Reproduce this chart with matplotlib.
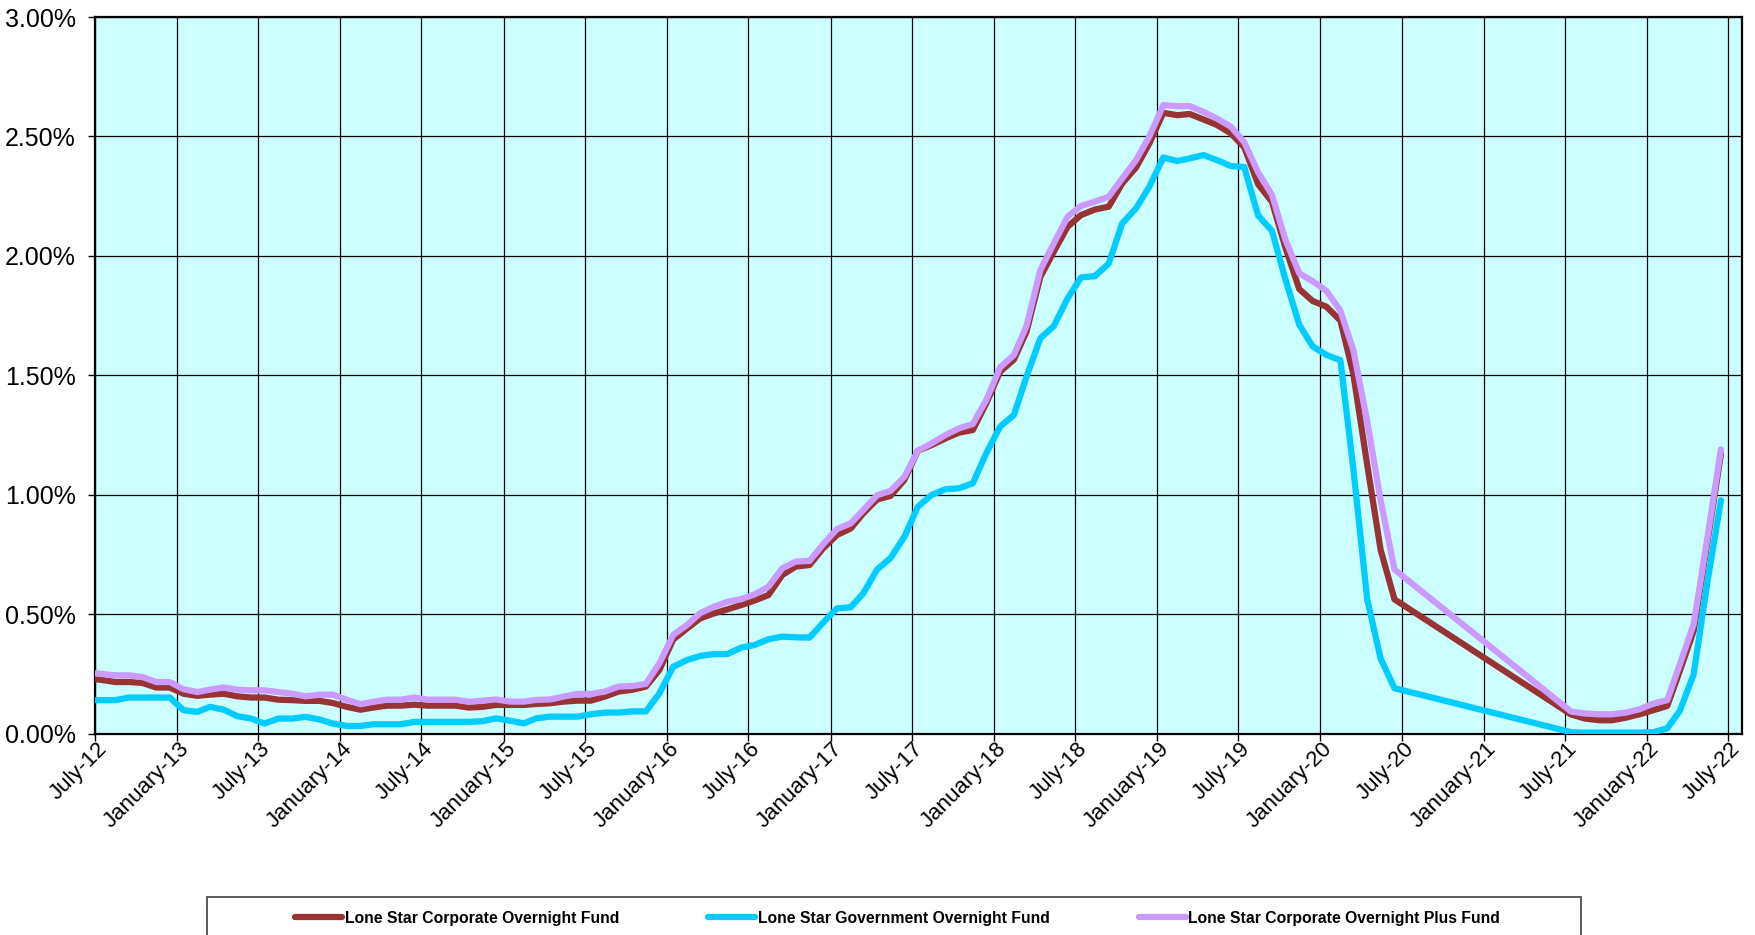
import numpy as np
import pandas as pd
import matplotlib
matplotlib.use("Agg")
import matplotlib.pyplot as plt
import matplotlib.dates as mdates
import matplotlib.transforms as mtransforms
from matplotlib.patches import Rectangle
from matplotlib.ticker import FuncFormatter

plt.rcParams['font.family'] = ['Liberation Sans', 'DejaVu Sans']

# monthly points (mid-month); no data from July 2020 to June 2021
dates_a = pd.date_range('2012-06-01', '2020-06-01', freq='MS') + pd.Timedelta(days=14)
dates_b = pd.date_range('2021-07-01', '2022-06-01', freq='MS') + pd.Timedelta(days=14)
dates = dates_a.append(dates_b)

# yields in percent
corporate = [
    0.230, 0.225, 0.216, 0.216, 0.212, 0.193, 0.193, 0.167, 0.158, 0.163,
    0.167, 0.156, 0.151, 0.151, 0.142, 0.140, 0.137, 0.137, 0.128, 0.112,
    0.100, 0.109, 0.117, 0.117, 0.121, 0.117, 0.117, 0.117, 0.109, 0.112,
    0.120, 0.120, 0.120, 0.124, 0.127, 0.134, 0.138, 0.138, 0.155, 0.176,
    0.183, 0.197, 0.266, 0.394, 0.440, 0.482, 0.503, 0.520, 0.538, 0.557,
    0.580, 0.664, 0.699, 0.706, 0.775, 0.831, 0.859, 0.922, 0.980, 0.995,
    1.062, 1.184, 1.208, 1.236, 1.260, 1.271, 1.382, 1.515, 1.566, 1.682,
    1.912, 2.017, 2.122, 2.171, 2.194, 2.206, 2.303, 2.370, 2.471, 2.599,
    2.589, 2.594, 2.571, 2.548, 2.513, 2.455, 2.300, 2.226, 2.035, 1.861,
    1.811, 1.787, 1.729, 1.505, 1.125, 0.769, 0.562,
    0.080, 0.063, 0.056, 0.056, 0.067, 0.081, 0.098, 0.116, 0.262, 0.430,
    0.793, 1.170,
]

government = [
    0.140, 0.140, 0.140, 0.151, 0.151, 0.151, 0.151, 0.098, 0.091, 0.112,
    0.100, 0.073, 0.063, 0.042, 0.063, 0.063, 0.070, 0.059, 0.042, 0.032,
    0.032, 0.039, 0.039, 0.039, 0.049, 0.049, 0.049, 0.049, 0.049, 0.052,
    0.064, 0.054, 0.043, 0.064, 0.071, 0.071, 0.071, 0.081, 0.088, 0.088,
    0.093, 0.093, 0.168, 0.280, 0.308, 0.325, 0.333, 0.333, 0.360, 0.371,
    0.395, 0.406, 0.403, 0.402, 0.464, 0.524, 0.529, 0.587, 0.687, 0.735,
    0.824, 0.950, 0.999, 1.023, 1.027, 1.048, 1.173, 1.285, 1.334, 1.494,
    1.655, 1.706, 1.822, 1.910, 1.915, 1.968, 2.136, 2.199, 2.290, 2.412,
    2.397, 2.408, 2.422, 2.401, 2.376, 2.372, 2.169, 2.105, 1.902, 1.712,
    1.621, 1.585, 1.563, 1.108, 0.562, 0.314, 0.190,
    0.006, 0.004, 0.004, 0.004, 0.004, 0.004, 0.006, 0.022, 0.095, 0.248,
    0.625, 0.977,
]

corporate_plus = [
    0.255, 0.250, 0.244, 0.244, 0.237, 0.216, 0.216, 0.186, 0.174, 0.184,
    0.193, 0.184, 0.181, 0.181, 0.174, 0.167, 0.156, 0.163, 0.163, 0.142,
    0.123, 0.133, 0.142, 0.142, 0.151, 0.142, 0.142, 0.142, 0.133, 0.138,
    0.143, 0.134, 0.134, 0.141, 0.143, 0.155, 0.166, 0.166, 0.176, 0.197,
    0.199, 0.208, 0.294, 0.413, 0.455, 0.504, 0.531, 0.552, 0.563, 0.583,
    0.615, 0.692, 0.720, 0.723, 0.792, 0.856, 0.880, 0.936, 0.998, 1.016,
    1.075, 1.184, 1.215, 1.250, 1.278, 1.296, 1.396, 1.533, 1.585, 1.706,
    1.940, 2.052, 2.164, 2.209, 2.227, 2.248, 2.324, 2.401, 2.501, 2.631,
    2.627, 2.627, 2.603, 2.575, 2.541, 2.476, 2.350, 2.255, 2.068, 1.927,
    1.894, 1.853, 1.770, 1.605, 1.307, 0.976, 0.687,
    0.092, 0.084, 0.081, 0.081, 0.088, 0.102, 0.126, 0.140, 0.290, 0.458,
    0.810, 1.190,
]

series_names = ["Lone Star Corporate Overnight Fund",
                "Lone Star Government Overnight Fund",
                "Lone Star Corporate Overnight Plus Fund"]
series_colors = ["#993333", "#00CCFF", "#CC99FF"]

# 図の作成
fig = plt.figure(figsize=(17.56, 9.35), dpi=100)
ax = fig.add_axes([0.0541, 0.2154, 0.9379, 0.7664])
ax.set_facecolor("#CCFFFF")

for vals, name, col in zip([corporate, government, corporate_plus], series_names, series_colors):
    ax.plot(dates, vals, color=col, lw=4.5, label=name,
            solid_capstyle='round', solid_joinstyle='round', zorder=3)

ax.set_xlim(pd.Timestamp('2012-07-01'), pd.Timestamp('2022-08-01'))
ax.set_ylim(0, 3.0)

ax.xaxis.set_major_locator(mdates.MonthLocator(bymonth=[1, 7]))
ax.xaxis.set_major_formatter(FuncFormatter(
    lambda v, p: mdates.num2date(v).strftime('%B-%y')))
ax.set_yticks(np.arange(0, 3.01, 0.5))
ax.yaxis.set_major_formatter(FuncFormatter(lambda v, p: f"{v:.2f}%"))

ax.grid(True, color="black", lw=0.9, zorder=1)
ax.set_axisbelow(True)
for s in ax.spines.values():
    s.set_linewidth(1.6)
    s.set_color("black")

ax.tick_params(axis='both', length=5, width=1.0)
ax.tick_params(axis='y', pad=9, labelsize=18)
ax.tick_params(axis='x', pad=3, labelsize=16)
shift = mtransforms.ScaledTranslation(9 / 100, -1 / 100, fig.dpi_scale_trans)
for lbl in ax.get_xticklabels():
    lbl.set_rotation(45)
    lbl.set_ha('right')
    lbl.set_va('center')
    lbl.set_rotation_mode('anchor')
    lbl.set_transform(lbl.get_transform() + shift)

# 凡例
fig.add_artist(Rectangle((207 / 1756, -0.1), (1581 - 207) / 1756, 0.1 + 1 - 897 / 935,
                         transform=fig.transFigure, fill=False,
                         edgecolor="#404040", lw=1.2))
fig.legend(loc='center', bbox_to_anchor=(0.5112, 1 - 918 / 935), ncol=3,
           frameon=False, prop={'weight': 'bold', 'size': 11.3},
           handlelength=3.0, handletextpad=0.14, columnspacing=5.7)

fig.savefig("out.png", dpi=100)
